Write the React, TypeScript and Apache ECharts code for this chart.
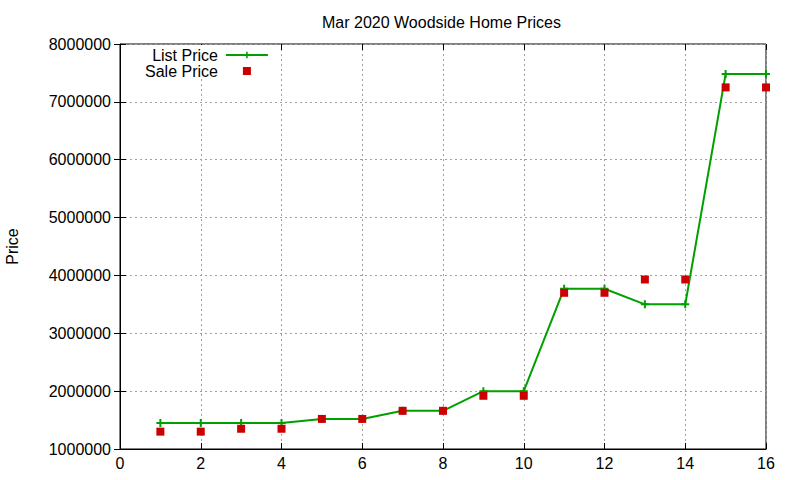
import React, { useEffect, useRef } from 'react';
import * as echarts from 'echarts';

const houseIndex = [1, 2, 3, 4, 5, 6, 7, 8, 9, 10, 11, 12, 13, 14, 15, 16];
const listPrice = [
  1450000, 1450000, 1450000, 1450000, 1520000, 1520000, 1660000, 1660000,
  2000000, 2000000, 3770000, 3770000, 3500000, 3500000, 7480000, 7480000,
];
const salePrice = [
  1300000, 1300000, 1350000, 1350000, 1520000, 1520000, 1660000, 1660000,
  1920000, 1920000, 3700000, 3700000, 3930000, 3930000, 7250000, 7250000,
];

const FONT = '"Liberation Sans", Arial, sans-serif';
const PLUS = 'path://M3,0 H5 V3 H8 V5 H5 V8 H3 V5 H0 V3 H3 Z';
// square in the middle of a 42x8 legend slot (tiny corner dots keep the box)
const LEGEND_SQUARE =
  'path://M0,0 H0.01 V0.01 H0 Z M17,0 H25 V8 H17 Z M41.99,7.99 H42 V8 H41.99 Z';

const App = () => {
  const chartRef = useRef<HTMLDivElement>(null);

  useEffect(() => {
    document.body.style.margin = '0';
    if (!chartRef.current) return;
    const chart = echarts.init(chartRef.current, undefined, { renderer: 'svg' });

    const gridLine = { show: true, lineStyle: { color: '#a0a0a0', type: [2, 3] as number[], width: 1 } };
    const tick = { show: true, inside: true, length: 6, lineStyle: { color: '#000' } };

    const option: echarts.EChartsOption = {
      animation: false,
      backgroundColor: '#fff',
      textStyle: { fontFamily: FONT },
      title: {
        text: 'Mar 2020 Woodside Home Prices',
        left: 317,
        top: 9,
        textStyle: { fontSize: 16, fontWeight: 'normal', color: '#000', fontFamily: FONT },
      },
      grid: {
        left: 120,
        right: 34,
        top: 44,
        bottom: 31,
        show: true,
        borderColor: '#000',
        borderWidth: 1,
        outerBoundsMode: 'none',
      } as any,
      legend: {
        orient: 'vertical',
        left: 141,
        top: 45,
        align: 'right',
        itemWidth: 42,
        itemHeight: 8,
        itemGap: 0,
        padding: [2, 4, 0, 4],
        backgroundColor: '#fff',
        textStyle: {
          fontSize: 16,
          color: '#000',
          fontFamily: FONT,
          width: 68,
          align: 'right',
          lineHeight: 16,
          padding: [0, 3, 0, 0],
        },
        data: [{ name: 'List Price' }, { name: 'Sale Price', icon: LEGEND_SQUARE }],
      },
      xAxis: [
        {
          type: 'value',
          min: 0,
          max: 16,
          interval: 2,
          axisLine: { show: true, lineStyle: { color: '#000' } },
          axisTick: tick,
          axisLabel: { fontSize: 16, color: '#000', margin: 6, fontFamily: FONT },
          splitLine: gridLine,
        },
        {
          type: 'value',
          position: 'top',
          min: 0,
          max: 16,
          interval: 2,
          axisLine: { show: false },
          axisTick: tick,
          axisLabel: { show: false },
          splitLine: { show: false },
        },
      ],
      yAxis: [
        {
          type: 'value',
          min: 1000000,
          max: 8000000,
          interval: 1000000,
          name: 'Price',
          nameLocation: 'middle',
          nameRotate: 90,
          nameGap: 100,
          nameTextStyle: { fontSize: 16, color: '#000', fontFamily: FONT },
          axisLine: { show: true, lineStyle: { color: '#000' } },
          axisTick: tick,
          axisLabel: {
            fontSize: 16,
            color: '#000',
            margin: 9,
            fontFamily: FONT,
            formatter: (v: number) => String(v),
          },
          splitLine: gridLine,
        },
        {
          type: 'value',
          position: 'right',
          min: 1000000,
          max: 8000000,
          interval: 1000000,
          axisLine: { show: false },
          axisTick: tick,
          axisLabel: { show: false },
          splitLine: { show: false },
        },
      ],
      series: [
        {
          name: 'List Price',
          type: 'line',
          data: houseIndex.map((x, i) => [x, listPrice[i]]),
          symbol: PLUS,
          symbolSize: 8,
          showAllSymbol: true,
          lineStyle: { color: '#00a000', width: 2 },
          itemStyle: { color: '#00a000' },
          z: 3,
        },
        {
          name: 'Sale Price',
          type: 'scatter',
          data: houseIndex.map((x, i) => [x, salePrice[i]]),
          symbol: 'rect',
          symbolSize: 8,
          itemStyle: { color: '#cc0000', opacity: 1 },
          z: 4,
        },
      ],
    };

    chart.setOption(option);
    return () => {
      chart.dispose();
    };
  }, []);

  return <div ref={chartRef} style={{ width: '800px', height: '480px' }} />;
};

export default App;
